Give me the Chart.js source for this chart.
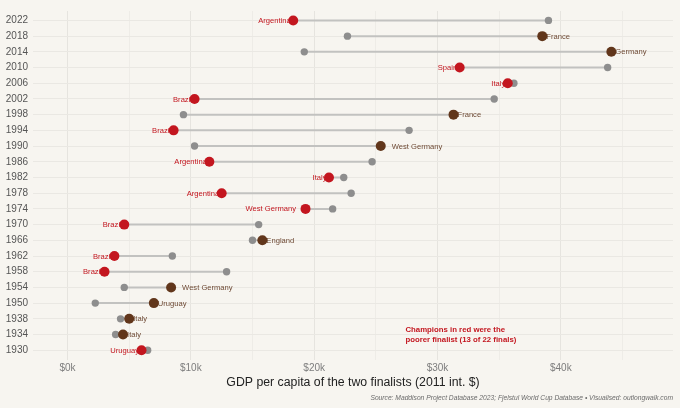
<!DOCTYPE html>
<html>
<head>
<meta charset="utf-8">
<script src="https://cdn.jsdelivr.net/npm/chart.js@4/dist/chart.umd.min.js"></script>
<style>
  html, body { margin: 0; padding: 0; background: #f7f5f0; }
  #wrap { width: 680px; height: 408px; }
</style>
</head>
<body>
<div id="wrap"><canvas id="chart"></canvas></div>
<script>
// World Cup finals, oldest first
const years = [1930, 1934, 1938, 1950, 1954, 1958, 1962, 1966, 1970, 1974, 1978,
  1982, 1986, 1990, 1994, 1998, 2002, 2006, 2010, 2014, 2018, 2022]
const champions = ['Uruguay', 'Italy', 'Italy', 'Uruguay', 'West Germany', 'Brazil', 'Brazil',
  'England', 'Brazil', 'West Germany', 'Argentina', 'Italy', 'Argentina', 'West Germany',
  'Brazil', 'France', 'Brazil', 'Italy', 'Spain', 'Germany', 'France', 'Argentina']
// GDP per capita (2011 int. $)
const championGdp = [6000, 4500, 5000, 7000, 8400, 3000, 3800, 15800, 4600, 19300, 12500,
  21200, 11500, 25400, 8600, 31300, 10300, 35700, 31800, 44100, 38500, 18300]
const runnerUpGdp = [6500, 3900, 4300, 2250, 4600, 12900, 8500, 15000, 15500, 21500, 23000,
  22400, 24700, 10300, 27700, 9400, 34600, 36200, 43800, 19200, 22700, 39000]
const xTicks = [0, 10000, 20000, 30000, 40000]
const xMinorTicks = [5000, 15000, 25000, 35000, 45000]
const note = ['Champions in red were the', 'poorer finalist (13 of 22 finals)']
const source = 'Source: Maddison Project Database 2023; Fjelstul World Cup Database \u2022 Visualised: outlongwalk.com'

const RED = '#c3161f'
const BROWN = '#61361b'
const GREY = '#8e8e8e'
const FONT = "'Liberation Sans', Arial, sans-serif"

const poorer = championGdp.map((g, i) => g < runnerUpGdp[i])
const champColors = poorer.map(p => p ? RED : BROWN)

// one short line per final, joining the two finalists
const segments = years.map((y, i) => ({
  type: 'line',
  data: [{ x: runnerUpGdp[i], y: i }, { x: championGdp[i], y: i }],
  borderColor: '#c2c2c0',
  borderWidth: 2,
  pointRadius: 0,
  order: 3
}))

const labelPlugin = {
  id: 'champLabels',
  beforeDatasetsDraw(chart) {
    const { ctx, scales: { x, y } } = chart
    ctx.save()
    ctx.font = `7.6px ${FONT}`
    ctx.textBaseline = 'middle'
    champions.forEach((name, i) => {
      const px = x.getPixelForValue(championGdp[i])
      const py = y.getPixelForValue(i)
      // the longer labels sit a little further from their dot
      const gap = name.length > 9 ? 7 : 0
      if (poorer[i]) {
        ctx.fillStyle = RED
        ctx.textAlign = 'right'
        ctx.fillText(name, px - 2.5 - gap, py + 0.5)
      } else {
        ctx.fillStyle = '#6e4a35'
        ctx.textAlign = 'left'
        ctx.fillText(name, px + 4 + gap, py + 0.5)
      }
    })
    ctx.restore()
  },
  afterDatasetsDraw(chart) {
    const { ctx, scales: { x, y } } = chart
    ctx.save()
    ctx.font = `bold 7.8px ${FONT}`
    ctx.fillStyle = RED
    ctx.textAlign = 'left'
    ctx.textBaseline = 'middle'
    const nx = x.getPixelForValue(27400)
    ctx.fillText(note[0], nx, y.getPixelForValue(1.3))
    ctx.fillText(note[1], nx, y.getPixelForValue(0.69))
    ctx.restore()
  }
}

new Chart(document.getElementById('chart'), {
  type: 'scatter',
  data: {
    datasets: [
      {
        data: championGdp.map((g, i) => ({ x: g, y: i })),
        pointRadius: 5,
        pointBackgroundColor: champColors,
        pointBorderWidth: 0,
        order: 1
      },
      {
        data: runnerUpGdp.map((g, i) => ({ x: g, y: i })),
        pointRadius: 3.7,
        pointBackgroundColor: GREY,
        pointBorderWidth: 0,
        order: 2
      },
      ...segments
    ]
  },
  options: {
    responsive: true,
    maintainAspectRatio: false,
    animation: false,
    events: [],
    layout: { padding: { top: 6.5, right: 7, left: 0, bottom: 0 } },
    plugins: {
      legend: { display: false },
      tooltip: { enabled: false },
      title: {
        display: true,
        position: 'bottom',
        align: 'end',
        text: source,
        color: '#6a6a6a',
        font: { family: FONT, size: 6.7, style: 'italic', weight: 'normal' },
        padding: { top: 3, bottom: 5.8 }
      }
    },
    scales: {
      x: {
        type: 'linear',
        min: -2800,
        max: 49100,
        afterBuildTicks: axis => {
          axis.ticks = [...xTicks, ...xMinorTicks].sort((a, b) => a - b).map(v => ({ value: v }))
        },
        afterFit: axis => { axis.height = 31.5 },
        ticks: {
          color: '#7d7d7d',
          font: { family: FONT, size: 10 },
          padding: 3,
          maxRotation: 0,
          autoSkip: false,
          callback: v => xTicks.includes(v) ? '$' + v / 1000 + 'k' : ''
        },
        grid: {
          drawTicks: false,
          color: c => (c.tick && xTicks.includes(c.tick.value)) ? '#e6e4df' : '#eeece7',
          lineWidth: 1
        },
        border: { display: false },
        title: {
          display: true,
          text: 'GDP per capita of the two finalists (2011 int. $)',
          color: '#222222',
          font: { family: FONT, size: 12.3 },
          padding: { top: 0, bottom: 0.8 }
        }
      },
      y: {
        type: 'linear',
        min: -0.6,
        max: years.length - 0.4,
        afterBuildTicks: axis => {
          axis.ticks = years.map((_, i) => ({ value: i }))
        },
        afterFit: axis => { axis.width = 33 },
        ticks: {
          color: '#555555',
          font: { family: FONT, size: 10 },
          padding: 5,
          autoSkip: false,
          callback: v => years[v]
        },
        grid: { drawTicks: false, color: '#eae8e3', lineWidth: 1 },
        border: { display: false }
      }
    }
  },
  plugins: [labelPlugin]
})
</script>
</body>
</html>
